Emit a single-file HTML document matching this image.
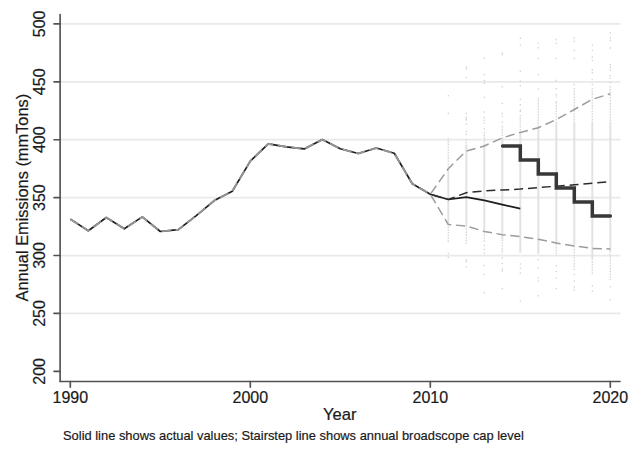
<!DOCTYPE html>
<html><head><meta charset="utf-8"><style>
html,body{margin:0;padding:0;background:#fff;width:640px;height:449px;overflow:hidden}
svg{display:block}
text{font-family:"Liberation Sans",sans-serif;fill:#1a1a1a;stroke:#1a1a1a;stroke-width:0.2px}
</style></head><body>
<svg width="640" height="449" viewBox="0 0 640 449">
<rect width="640" height="449" fill="#fff"/>
<line x1="61" y1="313.44" x2="620.5" y2="313.44" stroke="#e9e9e9" stroke-width="1.8"/>
<line x1="61" y1="255.53" x2="620.5" y2="255.53" stroke="#e9e9e9" stroke-width="1.8"/>
<line x1="61" y1="197.63" x2="620.5" y2="197.63" stroke="#e9e9e9" stroke-width="1.8"/>
<line x1="61" y1="139.72" x2="620.5" y2="139.72" stroke="#e9e9e9" stroke-width="1.8"/>
<line x1="61" y1="81.81" x2="620.5" y2="81.81" stroke="#e9e9e9" stroke-width="1.8"/>
<line x1="61" y1="23.90" x2="620.5" y2="23.90" stroke="#e9e9e9" stroke-width="1.8"/>
<line x1="448.30" y1="170" x2="448.30" y2="223.5" stroke="#e2e2e2" stroke-width="2"/>
<line x1="448.30" y1="138" x2="448.30" y2="170" stroke="#d9d9d9" stroke-width="1.5" stroke-dasharray="1.6 1.2"/>
<line x1="448.30" y1="223.5" x2="448.30" y2="242" stroke="#d9d9d9" stroke-width="1.5" stroke-dasharray="1.6 1.2"/>
<rect x="447.70" y="95.00" width="1.2" height="1.4" fill="#cfcfcf"/>
<rect x="447.70" y="112.70" width="1.2" height="1.4" fill="#cfcfcf"/>
<rect x="447.70" y="252.70" width="1.2" height="1.4" fill="#cfcfcf"/>
<rect x="447.70" y="256.70" width="1.2" height="1.4" fill="#cfcfcf"/>
<line x1="466.30" y1="146" x2="466.30" y2="225.7" stroke="#e2e2e2" stroke-width="2"/>
<line x1="466.30" y1="130.7" x2="466.30" y2="135" stroke="#d9d9d9" stroke-width="1.5" stroke-dasharray="1.6 1.2"/>
<line x1="466.30" y1="138.8" x2="466.30" y2="146" stroke="#d9d9d9" stroke-width="1.5" stroke-dasharray="1.6 1.2"/>
<line x1="466.30" y1="225.7" x2="466.30" y2="245" stroke="#d9d9d9" stroke-width="1.5" stroke-dasharray="1.6 1.2"/>
<rect x="465.70" y="66.30" width="1.2" height="1.4" fill="#cfcfcf"/>
<rect x="465.70" y="68.30" width="1.2" height="1.4" fill="#cfcfcf"/>
<rect x="465.70" y="76.80" width="1.2" height="1.4" fill="#cfcfcf"/>
<rect x="465.70" y="112.70" width="1.2" height="1.4" fill="#cfcfcf"/>
<rect x="465.70" y="116.70" width="1.2" height="1.4" fill="#cfcfcf"/>
<rect x="465.70" y="118.30" width="1.2" height="1.4" fill="#cfcfcf"/>
<rect x="465.70" y="119.30" width="1.2" height="1.4" fill="#cfcfcf"/>
<rect x="465.70" y="123.30" width="1.2" height="1.4" fill="#cfcfcf"/>
<rect x="465.70" y="259.30" width="1.2" height="1.4" fill="#cfcfcf"/>
<rect x="465.70" y="260.80" width="1.2" height="1.4" fill="#cfcfcf"/>
<rect x="465.70" y="266.10" width="1.2" height="1.4" fill="#cfcfcf"/>
<line x1="484.30" y1="144" x2="484.30" y2="229" stroke="#e2e2e2" stroke-width="2"/>
<line x1="484.30" y1="116.7" x2="484.30" y2="123.4" stroke="#d9d9d9" stroke-width="1.5" stroke-dasharray="1.6 1.2"/>
<line x1="484.30" y1="132" x2="484.30" y2="144" stroke="#d9d9d9" stroke-width="1.5" stroke-dasharray="1.6 1.2"/>
<line x1="484.30" y1="229" x2="484.30" y2="242" stroke="#d9d9d9" stroke-width="1.5" stroke-dasharray="1.6 1.2"/>
<rect x="483.70" y="57.60" width="1.2" height="1.4" fill="#cfcfcf"/>
<rect x="483.70" y="73.90" width="1.2" height="1.4" fill="#cfcfcf"/>
<rect x="483.70" y="79.90" width="1.2" height="1.4" fill="#cfcfcf"/>
<rect x="483.70" y="82.80" width="1.2" height="1.4" fill="#cfcfcf"/>
<rect x="483.70" y="96.60" width="1.2" height="1.4" fill="#cfcfcf"/>
<rect x="483.70" y="111.30" width="1.2" height="1.4" fill="#cfcfcf"/>
<rect x="483.70" y="128.00" width="1.2" height="1.4" fill="#cfcfcf"/>
<rect x="483.70" y="244.70" width="1.2" height="1.4" fill="#cfcfcf"/>
<rect x="483.70" y="248.70" width="1.2" height="1.4" fill="#cfcfcf"/>
<rect x="483.70" y="252.70" width="1.2" height="1.4" fill="#cfcfcf"/>
<rect x="483.70" y="264.80" width="1.2" height="1.4" fill="#cfcfcf"/>
<rect x="483.70" y="273.80" width="1.2" height="1.4" fill="#cfcfcf"/>
<rect x="483.70" y="292.10" width="1.2" height="1.4" fill="#cfcfcf"/>
<line x1="502.30" y1="137" x2="502.30" y2="239.4" stroke="#e2e2e2" stroke-width="2"/>
<line x1="502.30" y1="112.7" x2="502.30" y2="116.7" stroke="#d9d9d9" stroke-width="1.5" stroke-dasharray="1.6 1.2"/>
<line x1="502.30" y1="126" x2="502.30" y2="137" stroke="#d9d9d9" stroke-width="1.5" stroke-dasharray="1.6 1.2"/>
<line x1="502.30" y1="239.4" x2="502.30" y2="254" stroke="#d9d9d9" stroke-width="1.5" stroke-dasharray="1.6 1.2"/>
<rect x="501.70" y="52.30" width="1.2" height="1.4" fill="#cfcfcf"/>
<rect x="501.70" y="53.80" width="1.2" height="1.4" fill="#cfcfcf"/>
<rect x="501.70" y="86.10" width="1.2" height="1.4" fill="#cfcfcf"/>
<rect x="501.70" y="102.70" width="1.2" height="1.4" fill="#cfcfcf"/>
<rect x="501.70" y="121.30" width="1.2" height="1.4" fill="#cfcfcf"/>
<rect x="501.70" y="257.30" width="1.2" height="1.4" fill="#cfcfcf"/>
<rect x="501.70" y="262.80" width="1.2" height="1.4" fill="#cfcfcf"/>
<rect x="501.70" y="268.10" width="1.2" height="1.4" fill="#cfcfcf"/>
<rect x="501.70" y="270.30" width="1.2" height="1.4" fill="#cfcfcf"/>
<rect x="501.70" y="288.00" width="1.2" height="1.4" fill="#cfcfcf"/>
<line x1="520.30" y1="132" x2="520.30" y2="252.8" stroke="#e2e2e2" stroke-width="2"/>
<line x1="520.30" y1="115" x2="520.30" y2="132" stroke="#d9d9d9" stroke-width="1.5" stroke-dasharray="1.6 1.2"/>
<rect x="519.70" y="37.60" width="1.2" height="1.4" fill="#cfcfcf"/>
<rect x="519.70" y="44.30" width="1.2" height="1.4" fill="#cfcfcf"/>
<rect x="519.70" y="70.50" width="1.2" height="1.4" fill="#cfcfcf"/>
<rect x="519.70" y="80.50" width="1.2" height="1.4" fill="#cfcfcf"/>
<rect x="519.70" y="85.00" width="1.2" height="1.4" fill="#cfcfcf"/>
<rect x="519.70" y="98.70" width="1.2" height="1.4" fill="#cfcfcf"/>
<rect x="519.70" y="104.00" width="1.2" height="1.4" fill="#cfcfcf"/>
<rect x="519.70" y="109.30" width="1.2" height="1.4" fill="#cfcfcf"/>
<rect x="519.70" y="110.70" width="1.2" height="1.4" fill="#cfcfcf"/>
<rect x="519.70" y="263.30" width="1.2" height="1.4" fill="#cfcfcf"/>
<rect x="519.70" y="267.30" width="1.2" height="1.4" fill="#cfcfcf"/>
<rect x="519.70" y="272.30" width="1.2" height="1.4" fill="#cfcfcf"/>
<rect x="519.70" y="300.30" width="1.2" height="1.4" fill="#cfcfcf"/>
<line x1="538.30" y1="126" x2="538.30" y2="254" stroke="#e2e2e2" stroke-width="2"/>
<line x1="538.30" y1="100" x2="538.30" y2="126" stroke="#d9d9d9" stroke-width="1.5" stroke-dasharray="1.6 1.2"/>
<rect x="537.70" y="42.70" width="1.2" height="1.4" fill="#cfcfcf"/>
<rect x="537.70" y="47.10" width="1.2" height="1.4" fill="#cfcfcf"/>
<rect x="537.70" y="57.80" width="1.2" height="1.4" fill="#cfcfcf"/>
<rect x="537.70" y="73.90" width="1.2" height="1.4" fill="#cfcfcf"/>
<rect x="537.70" y="88.30" width="1.2" height="1.4" fill="#cfcfcf"/>
<rect x="537.70" y="98.00" width="1.2" height="1.4" fill="#cfcfcf"/>
<rect x="537.70" y="258.80" width="1.2" height="1.4" fill="#cfcfcf"/>
<rect x="537.70" y="267.30" width="1.2" height="1.4" fill="#cfcfcf"/>
<rect x="537.70" y="277.30" width="1.2" height="1.4" fill="#cfcfcf"/>
<rect x="537.70" y="280.30" width="1.2" height="1.4" fill="#cfcfcf"/>
<rect x="537.70" y="295.10" width="1.2" height="1.4" fill="#cfcfcf"/>
<line x1="556.30" y1="122" x2="556.30" y2="244" stroke="#e2e2e2" stroke-width="2"/>
<line x1="556.30" y1="88" x2="556.30" y2="90.7" stroke="#d9d9d9" stroke-width="1.5" stroke-dasharray="1.6 1.2"/>
<line x1="556.30" y1="94" x2="556.30" y2="97.4" stroke="#d9d9d9" stroke-width="1.5" stroke-dasharray="1.6 1.2"/>
<line x1="556.30" y1="102" x2="556.30" y2="122" stroke="#d9d9d9" stroke-width="1.5" stroke-dasharray="1.6 1.2"/>
<line x1="556.30" y1="244" x2="556.30" y2="256" stroke="#d9d9d9" stroke-width="1.5" stroke-dasharray="1.6 1.2"/>
<rect x="555.70" y="38.90" width="1.2" height="1.4" fill="#cfcfcf"/>
<rect x="555.70" y="42.70" width="1.2" height="1.4" fill="#cfcfcf"/>
<rect x="555.70" y="57.80" width="1.2" height="1.4" fill="#cfcfcf"/>
<rect x="555.70" y="79.70" width="1.2" height="1.4" fill="#cfcfcf"/>
<rect x="555.70" y="101.30" width="1.2" height="1.4" fill="#cfcfcf"/>
<rect x="555.70" y="265.00" width="1.2" height="1.4" fill="#cfcfcf"/>
<rect x="555.70" y="270.80" width="1.2" height="1.4" fill="#cfcfcf"/>
<rect x="555.70" y="277.30" width="1.2" height="1.4" fill="#cfcfcf"/>
<rect x="555.70" y="287.90" width="1.2" height="1.4" fill="#cfcfcf"/>
<line x1="574.30" y1="122" x2="574.30" y2="246" stroke="#e2e2e2" stroke-width="2"/>
<line x1="574.30" y1="88" x2="574.30" y2="122" stroke="#d9d9d9" stroke-width="1.5" stroke-dasharray="1.6 1.2"/>
<line x1="574.30" y1="246" x2="574.30" y2="270" stroke="#d9d9d9" stroke-width="1.5" stroke-dasharray="1.6 1.2"/>
<rect x="573.70" y="37.30" width="1.2" height="1.4" fill="#cfcfcf"/>
<rect x="573.70" y="40.60" width="1.2" height="1.4" fill="#cfcfcf"/>
<rect x="573.70" y="49.70" width="1.2" height="1.4" fill="#cfcfcf"/>
<rect x="573.70" y="57.70" width="1.2" height="1.4" fill="#cfcfcf"/>
<rect x="573.70" y="83.80" width="1.2" height="1.4" fill="#cfcfcf"/>
<rect x="573.70" y="273.80" width="1.2" height="1.4" fill="#cfcfcf"/>
<rect x="573.70" y="280.60" width="1.2" height="1.4" fill="#cfcfcf"/>
<rect x="573.70" y="286.30" width="1.2" height="1.4" fill="#cfcfcf"/>
<rect x="573.70" y="289.30" width="1.2" height="1.4" fill="#cfcfcf"/>
<line x1="592.30" y1="122" x2="592.30" y2="258.5" stroke="#e2e2e2" stroke-width="2"/>
<line x1="592.30" y1="69.1" x2="592.30" y2="74.7" stroke="#d9d9d9" stroke-width="1.5" stroke-dasharray="1.6 1.2"/>
<line x1="592.30" y1="79" x2="592.30" y2="80" stroke="#d9d9d9" stroke-width="1.5" stroke-dasharray="1.6 1.2"/>
<line x1="592.30" y1="88" x2="592.30" y2="122" stroke="#d9d9d9" stroke-width="1.5" stroke-dasharray="1.6 1.2"/>
<line x1="592.30" y1="258.5" x2="592.30" y2="275" stroke="#d9d9d9" stroke-width="1.5" stroke-dasharray="1.6 1.2"/>
<rect x="591.70" y="44.60" width="1.2" height="1.4" fill="#cfcfcf"/>
<rect x="591.70" y="49.70" width="1.2" height="1.4" fill="#cfcfcf"/>
<rect x="591.70" y="56.30" width="1.2" height="1.4" fill="#cfcfcf"/>
<rect x="591.70" y="59.70" width="1.2" height="1.4" fill="#cfcfcf"/>
<rect x="591.70" y="83.80" width="1.2" height="1.4" fill="#cfcfcf"/>
<rect x="591.70" y="285.00" width="1.2" height="1.4" fill="#cfcfcf"/>
<rect x="591.70" y="290.60" width="1.2" height="1.4" fill="#cfcfcf"/>
<line x1="610.30" y1="122" x2="610.30" y2="251" stroke="#e2e2e2" stroke-width="2"/>
<line x1="610.30" y1="63.8" x2="610.30" y2="71.1" stroke="#d9d9d9" stroke-width="1.5" stroke-dasharray="1.6 1.2"/>
<line x1="610.30" y1="75" x2="610.30" y2="79" stroke="#d9d9d9" stroke-width="1.5" stroke-dasharray="1.6 1.2"/>
<line x1="610.30" y1="86" x2="610.30" y2="122" stroke="#d9d9d9" stroke-width="1.5" stroke-dasharray="1.6 1.2"/>
<line x1="610.30" y1="251" x2="610.30" y2="280" stroke="#d9d9d9" stroke-width="1.5" stroke-dasharray="1.6 1.2"/>
<rect x="609.70" y="32.10" width="1.2" height="1.4" fill="#cfcfcf"/>
<rect x="609.70" y="37.00" width="1.2" height="1.4" fill="#cfcfcf"/>
<rect x="609.70" y="39.70" width="1.2" height="1.4" fill="#cfcfcf"/>
<rect x="609.70" y="47.30" width="1.2" height="1.4" fill="#cfcfcf"/>
<rect x="609.70" y="81.80" width="1.2" height="1.4" fill="#cfcfcf"/>
<rect x="609.70" y="286.10" width="1.2" height="1.4" fill="#cfcfcf"/>
<rect x="609.70" y="299.00" width="1.2" height="1.4" fill="#cfcfcf"/>
<polyline points="70.30,219.10 88.30,230.70 106.30,217.50 124.30,228.80 142.30,216.90 160.30,231.50 178.30,229.70 196.30,215.60 214.30,200.60 232.30,191.20 250.30,161.10 268.30,143.80 286.30,146.80 304.30,148.90 322.30,139.60 340.30,148.80 358.30,153.50 376.30,148.00 394.30,153.30 412.30,183.80 430.30,194.20 448.30,199.50 466.30,197.10 484.30,200.30 502.30,204.70 520.30,208.70" fill="none" stroke="#1e1e1e" stroke-width="1.7" stroke-linejoin="round"/>
<polyline points="70.30,219.10 88.30,230.70 106.30,217.50 124.30,228.80 142.30,216.90 160.30,231.50 178.30,229.70 196.30,215.60 214.30,200.60 232.30,191.20 250.30,161.10 268.30,143.80 286.30,146.80 304.30,148.90 322.30,139.60 340.30,148.80 358.30,153.50 376.30,148.00 394.30,153.30 412.30,183.80 430.30,194.20" fill="none" stroke="#959595" stroke-width="1.9" stroke-dasharray="9.3 4.6" stroke-linejoin="round"/>
<polyline points="430.30,194.20 448.30,168.70 466.30,151.00 484.30,146.00 502.30,137.90 520.30,132.40 538.30,127.70 556.30,119.60 574.30,109.50 592.30,99.30 610.30,93.80" fill="none" stroke="#9c9c9c" stroke-width="1.5" stroke-dasharray="9.3 4.6" stroke-dashoffset="12.81" stroke-linejoin="round"/>
<polyline points="430.30,194.20 448.30,224.50 466.30,226.00 484.30,231.40 502.30,234.70 520.30,236.70 538.30,239.20 556.30,243.00 574.30,246.00 592.30,248.40 610.30,249.00" fill="none" stroke="#9c9c9c" stroke-width="1.5" stroke-dasharray="9.3 4.6" stroke-dashoffset="12.81" stroke-linejoin="round"/>
<polyline points="430.30,194.20 448.30,199.50 466.30,192.70 484.30,190.90 502.30,190.00 520.30,189.10 538.30,187.60 556.30,186.20 574.30,184.80 592.30,183.20 610.30,181.50" fill="none" stroke="#2c2c2c" stroke-width="1.5" stroke-dasharray="9 4.9" stroke-dashoffset="11.34"/>
<path d="M502.6,146 H520.3 V160 H538.3 V174 H556.3 V188 H574.3 V202 H592.3 V216 H610.3" fill="none" stroke="#383838" stroke-width="3.5" stroke-linejoin="miter" stroke-linecap="round"/>
<line x1="60.1" y1="14.5" x2="60.1" y2="381.5" stroke="#525252" stroke-width="1.65" stroke-linecap="round"/>
<line x1="60.1" y1="381.5" x2="620" y2="381.5" stroke="#525252" stroke-width="1.65" stroke-linecap="round"/>
<line x1="54" y1="371.35" x2="60.1" y2="371.35" stroke="#525252" stroke-width="1.65" stroke-linecap="round"/>
<text x="0" y="0" transform="translate(44.5,371.35) rotate(-90)" text-anchor="middle" font-size="16">200</text>
<line x1="54" y1="313.44" x2="60.1" y2="313.44" stroke="#525252" stroke-width="1.65" stroke-linecap="round"/>
<text x="0" y="0" transform="translate(44.5,313.44) rotate(-90)" text-anchor="middle" font-size="16">250</text>
<line x1="54" y1="255.53" x2="60.1" y2="255.53" stroke="#525252" stroke-width="1.65" stroke-linecap="round"/>
<text x="0" y="0" transform="translate(44.5,255.53) rotate(-90)" text-anchor="middle" font-size="16">300</text>
<line x1="54" y1="197.63" x2="60.1" y2="197.63" stroke="#525252" stroke-width="1.65" stroke-linecap="round"/>
<text x="0" y="0" transform="translate(44.5,197.63) rotate(-90)" text-anchor="middle" font-size="16">350</text>
<line x1="54" y1="139.72" x2="60.1" y2="139.72" stroke="#525252" stroke-width="1.65" stroke-linecap="round"/>
<text x="0" y="0" transform="translate(44.5,139.72) rotate(-90)" text-anchor="middle" font-size="16">400</text>
<line x1="54" y1="81.81" x2="60.1" y2="81.81" stroke="#525252" stroke-width="1.65" stroke-linecap="round"/>
<text x="0" y="0" transform="translate(44.5,81.81) rotate(-90)" text-anchor="middle" font-size="16">450</text>
<line x1="54" y1="23.90" x2="60.1" y2="23.90" stroke="#525252" stroke-width="1.65" stroke-linecap="round"/>
<text x="0" y="0" transform="translate(44.5,23.90) rotate(-90)" text-anchor="middle" font-size="16">500</text>
<line x1="70.30" y1="381.5" x2="70.30" y2="387.2" stroke="#525252" stroke-width="1.65" stroke-linecap="round"/>
<text x="70.30" y="402.5" text-anchor="middle" font-size="16">1990</text>
<line x1="250.30" y1="381.5" x2="250.30" y2="387.2" stroke="#525252" stroke-width="1.65" stroke-linecap="round"/>
<text x="250.30" y="402.5" text-anchor="middle" font-size="16">2000</text>
<line x1="430.30" y1="381.5" x2="430.30" y2="387.2" stroke="#525252" stroke-width="1.65" stroke-linecap="round"/>
<text x="430.30" y="402.5" text-anchor="middle" font-size="16">2010</text>
<line x1="610.30" y1="381.5" x2="610.30" y2="387.2" stroke="#525252" stroke-width="1.65" stroke-linecap="round"/>
<text x="610.30" y="402.5" text-anchor="middle" font-size="16">2020</text>
<text x="339.7" y="420" text-anchor="middle" font-size="16.6">Year</text>
<text x="0" y="0" transform="translate(27.5,197.6) rotate(-90)" text-anchor="middle" font-size="16.4">Annual Emissions (mmTons)</text>
<text x="63" y="439.8" font-size="12.9">Solid line shows actual values; Stairstep line shows annual broadscope cap level</text>
</svg>
</body></html>
